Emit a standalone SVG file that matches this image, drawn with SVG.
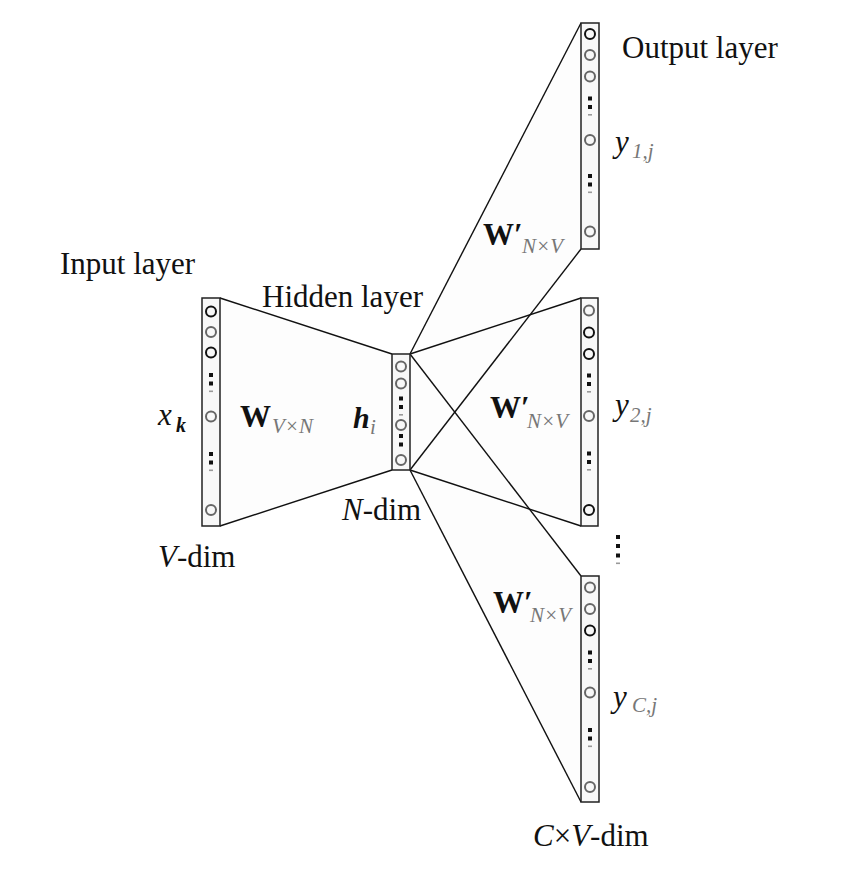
<svg xmlns="http://www.w3.org/2000/svg" width="859" height="871" viewBox="0 0 859 871">
<style>
.col{fill:#f8f8f8;stroke:#222;stroke-width:1.5}
.cb{fill:none;stroke:#111;stroke-width:2}
.cg{fill:none;stroke:#666;stroke-width:2}
.ln{stroke:#111;stroke-width:1.4;fill:none}
.sh{fill:#fdfdfd;stroke:none}
.t{font-family:"Liberation Serif","Times New Roman",serif;font-size:31px;fill:#111}
.it{font-style:italic}
.b{font-weight:bold}
.sub{font-family:"Liberation Serif","Times New Roman",serif;font-style:italic;fill:#777;font-size:21px}
.sq{fill:#111}
.dash{fill:#999}
</style>
<defs>
<g id="dots"><rect x="-2" y="-2" width="4" height="4" class="sq"/><rect x="-2" y="6.5" width="4" height="4" class="sq"/><rect x="-2" y="15.5" width="4" height="1.6" class="dash"/></g>
</defs>
<rect width="859" height="871" fill="#fff"/>
<g id="connectors">
<polygon class="sh" points="220,298 392,354 392,470 220,526"/>
<polygon class="sh" points="410,354 581,23 581,249 410,470"/>
<polygon class="sh" points="410,354 581,298 581,526 410,470"/>
<polygon class="sh" points="410,354 581,576 581,802 410,470"/>
<line class="ln" x1="220" y1="298" x2="392" y2="354"/>
<line class="ln" x1="220" y1="526" x2="392" y2="470"/>
<line class="ln" x1="410" y1="354" x2="581" y2="23"/>
<line class="ln" x1="410" y1="470" x2="581" y2="249"/>
<line class="ln" x1="410" y1="354" x2="581" y2="298"/>
<line class="ln" x1="410" y1="470" x2="581" y2="526"/>
<line class="ln" x1="410" y1="354" x2="581" y2="576"/>
<line class="ln" x1="410" y1="470" x2="581" y2="802"/>
</g>
<g id="input-layer">
<rect class="col" x="202" y="298" width="18" height="228"/>
<circle class="cb" cx="211" cy="311.5" r="5"/>
<circle class="cg" cx="211" cy="332" r="5"/>
<circle class="cb" cx="211" cy="352.5" r="5"/>
<use href="#dots" x="211" y="375"/>
<circle class="cg" cx="211" cy="416.5" r="5"/>
<use href="#dots" x="211" y="454"/>
<circle class="cg" cx="211" cy="510" r="5"/>
</g>
<g id="hidden-layer">
<rect class="col" x="392" y="354" width="18" height="116"/>
<circle class="cg" cx="401" cy="366.5" r="5"/>
<circle class="cg" cx="401" cy="383.5" r="5"/>
<use href="#dots" x="401" y="398.5"/>
<circle class="cg" cx="401" cy="425" r="5"/>
<rect class="sq" x="399" y="434" width="4" height="4"/>
<rect class="sq" x="399" y="442.5" width="4" height="4"/>
<circle class="cg" cx="401" cy="460" r="5"/>
</g>
<g id="output-1">
<rect class="col" x="581" y="23" width="18" height="226"/>
<circle class="cb" cx="590" cy="34" r="5"/>
<circle class="cg" cx="590" cy="55" r="5"/>
<circle class="cg" cx="590" cy="76.5" r="5"/>
<use href="#dots" x="590" y="98.5"/>
<circle class="cg" cx="590" cy="140" r="5"/>
<use href="#dots" x="590" y="176"/>
<circle class="cg" cx="590" cy="231.5" r="5"/>
</g>
<g id="output-2">
<rect class="col" x="581" y="298" width="17" height="228"/>
<circle class="cg" cx="589" cy="310.5" r="5"/>
<circle class="cb" cx="589" cy="332.5" r="5"/>
<circle class="cb" cx="589" cy="354" r="5"/>
<use href="#dots" x="589" y="375.5"/>
<circle class="cg" cx="589" cy="416" r="5"/>
<use href="#dots" x="589" y="453.5"/>
<circle class="cb" cx="589" cy="510" r="5"/>
</g>
<g id="output-3">
<rect class="col" x="581" y="576" width="18" height="226"/>
<circle class="cg" cx="590" cy="587.5" r="5"/>
<circle class="cg" cx="590" cy="609" r="5"/>
<circle class="cb" cx="590" cy="630.5" r="5"/>
<use href="#dots" x="590" y="652.5"/>
<circle class="cg" cx="590" cy="692.5" r="5"/>
<use href="#dots" x="590" y="730"/>
<circle class="cg" cx="590" cy="787" r="5"/>
</g>
<g id="ellipsis">
<rect class="sq" x="616" y="535" width="4" height="4"/>
<rect class="sq" x="616" y="544" width="4" height="4"/>
<rect class="sq" x="616" y="553.5" width="4" height="4"/>
<rect class="dash" x="616" y="562.5" width="4" height="1.6"/>
</g>
<g id="labels">
<text class="t" x="60" y="274">Input layer</text>
<text class="t" x="262" y="307">Hidden layer</text>
<text class="t" x="622" y="58">Output layer</text>
<text class="t" x="158" y="567"><tspan class="it">V</tspan>-dim</text>
<text class="t" x="342" y="520"><tspan class="it">N</tspan>-dim</text>
<text class="t" x="533" y="846"><tspan class="it">C</tspan>×<tspan class="it">V</tspan>-dim</text>
<text class="t it" x="158" y="425">x</text>
<text class="t it b" x="176" y="432" style="font-size:20px">k</text>
<text class="t b" x="240" y="427" style="font-size:31px">W</text>
<text class="sub" x="272" y="433">V×N</text>
<text class="t it b" x="353" y="428" style="font-size:30px">h</text>
<text class="sub" x="370" y="434">i</text>
<text class="t b" x="483" y="245" style="font-size:31px">W′</text>
<text class="sub" x="522" y="253">N×V</text>
<text class="t b" x="490" y="418" style="font-size:31px">W′</text>
<text class="sub" x="527" y="428">N×V</text>
<text class="t b" x="493" y="613" style="font-size:31px">W′</text>
<text class="sub" x="530" y="622">N×V</text>
<text class="t it" x="615" y="152">y</text>
<text class="sub" x="632" y="158">1,j</text>
<text class="t it" x="615" y="415">y</text>
<text class="sub" x="630" y="422">2,j</text>
<text class="t it" x="613" y="707">y</text>
<text class="sub" x="632" y="712">C,j</text>
</g>
</svg>
